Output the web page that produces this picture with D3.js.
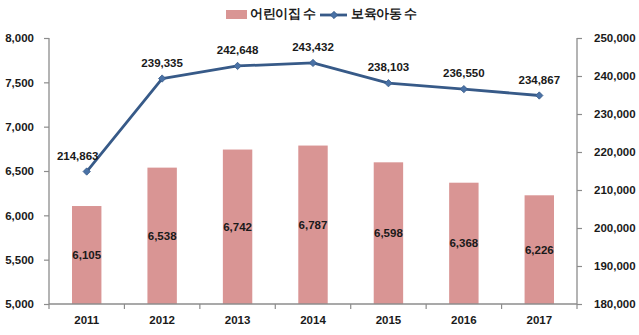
<!DOCTYPE html>
<html>
<head>
<meta charset="utf-8">
<script src="https://cdn.jsdelivr.net/npm/d3@7/dist/d3.min.js"></script>
<style>
  html, body { margin: 0; padding: 0; background: #fff; }
  svg { display: block; }
  text { font-family: "Liberation Sans", Arial, sans-serif; }
</style>
</head>
<body>
<svg id="chart" width="639" height="335"></svg>
<script>
// 연도별 어린이집 수와 보육아동 수
const years = ["2011", "2012", "2013", "2014", "2015", "2016", "2017"];
const centers = [6105, 6538, 6742, 6787, 6598, 6368, 6226];
const children = [214863, 239335, 242648, 243432, 238103, 236550, 234867];
const leftTicks = [5000, 5500, 6000, 6500, 7000, 7500, 8000];
const rightTicks = [180000, 190000, 200000, 210000, 220000, 230000, 240000, 250000];
const seriesNames = ["어린이집 수", "보육아동 수"];

const svg = d3.select("#chart");
const plotLeft = 49, plotRight = 577, plotTop = 38, plotBottom = 304;

const x = d3.scaleBand().domain(years).range([plotLeft, plotRight]);
const yL = d3.scaleLinear().domain([5000, 8000]).range([plotBottom, plotTop]);
const yR = d3.scaleLinear().domain([180000, 250000]).range([plotBottom, plotTop]);

const fmt = d3.format(",");
const axisColor = "#8c8c8c";
const barColor = "#d99594";
const lineColor = "#375a88";
const markerColor = "#4a72a6";

// 막대: 어린이집 수
const barW = x.bandwidth() * 0.39;
svg.append("g").selectAll("rect").data(years).join("rect")
  .attr("x", d => x(d) + x.bandwidth() / 2 - barW / 2)
  .attr("y", (d, i) => yL(centers[i]))
  .attr("width", barW)
  .attr("height", (d, i) => plotBottom - yL(centers[i]))
  .attr("fill", barColor);

// 막대 값 라벨
svg.append("g").selectAll("text").data(years).join("text")
  .attr("x", d => x(d) + x.bandwidth() / 2)
  .attr("y", (d, i) => (yL(centers[i]) + plotBottom) / 2 + 1)
  .attr("text-anchor", "middle")
  .attr("dominant-baseline", "middle")
  .attr("font-size", 11.5)
  .attr("font-weight", "bold")
  .attr("fill", "#1a1a1a")
  .text((d, i) => fmt(centers[i]));

// 축
const axL = d3.axisLeft(yL).tickValues(leftTicks).tickFormat(fmt).tickSize(5).tickPadding(10);
const gL = svg.append("g").attr("transform", `translate(${plotLeft},0)`).call(axL);
const axR = d3.axisRight(yR).tickValues(rightTicks).tickFormat(fmt).tickSize(5).tickPadding(12);
const gR = svg.append("g").attr("transform", `translate(${plotRight},0)`).call(axR);
const axB = d3.axisBottom(x).tickSize(0).tickPadding(12);
const gB = svg.append("g").attr("transform", `translate(0,${plotBottom})`).call(axB);

[gL, gR, gB].forEach(g => {
  g.select(".domain").attr("stroke", axisColor).attr("stroke-width", 1.3);
  g.selectAll(".tick line").attr("stroke", axisColor).attr("stroke-width", 1.2);
  g.selectAll(".tick text")
    .attr("font-size", 11.5)
    .attr("font-weight", "bold")
    .attr("fill", "#1a1a1a")
    .attr("font-family", "\"Liberation Sans\", Arial, sans-serif");
});
gL.select(".domain").attr("d", `M0,${plotTop}V${plotBottom}`);
gR.select(".domain").attr("d", `M0,${plotTop}V${plotBottom}`);
gB.select(".domain").attr("d", `M${plotLeft},0H${plotRight}`);

// 범주 경계 눈금
const bounds = d3.range(years.length + 1).map(i => plotLeft + x.bandwidth() * i);
svg.append("g").selectAll("line").data(bounds).join("line")
  .attr("x1", d => d).attr("x2", d => d)
  .attr("y1", plotBottom).attr("y2", plotBottom + 5)
  .attr("stroke", axisColor).attr("stroke-width", 1.2);

// 선: 보육아동 수
const cx = d => x(d) + x.bandwidth() / 2;
const line = d3.line().x((d, i) => cx(years[i])).y(d => yR(d));
svg.append("path").datum(children)
  .attr("d", line)
  .attr("fill", "none")
  .attr("stroke", lineColor)
  .attr("stroke-width", 2.8)
  .attr("stroke-linejoin", "round");

const diamond = d3.symbol().type(d3.symbolDiamond2).size(34);
svg.append("g").selectAll("path").data(children).join("path")
  .attr("transform", (d, i) => `translate(${cx(years[i])},${yR(d)})`)
  .attr("d", diamond)
  .attr("fill", markerColor)
  .attr("stroke", lineColor)
  .attr("stroke-width", 0.8);

svg.append("g").selectAll("text").data(children).join("text")
  .attr("x", (d, i) => cx(years[i]) + (i === 0 ? -9 : 0))
  .attr("y", d => yR(d) - 15)
  .attr("text-anchor", "middle")
  .attr("dominant-baseline", "middle")
  .attr("font-size", 11.5)
  .attr("font-weight", "bold")
  .attr("fill", "#1a1a1a")
  .text(d => fmt(d));

// 범례
const lg = svg.append("g").attr("font-family", "\"Noto Sans CJK KR\", sans-serif");
lg.append("rect").attr("x", 226).attr("y", 10).attr("width", 21).attr("height", 9).attr("fill", barColor);
lg.append("text").attr("x", 250).attr("y", 15).attr("dominant-baseline", "middle")
  .attr("font-size", 12.5).attr("font-weight", "bold").attr("letter-spacing", -0.5)
  .attr("fill", "#1a1a1a").text(seriesNames[0]);
lg.append("line").attr("x1", 320).attr("x2", 347).attr("y1", 15).attr("y2", 15)
  .attr("stroke", lineColor).attr("stroke-width", 2.8);
lg.append("path").attr("transform", "translate(334,15)").attr("d", diamond)
  .attr("fill", markerColor).attr("stroke", lineColor).attr("stroke-width", 0.8);
lg.append("text").attr("x", 351).attr("y", 15).attr("dominant-baseline", "middle")
  .attr("font-size", 12.5).attr("font-weight", "bold").attr("letter-spacing", -0.5)
  .attr("fill", "#1a1a1a").text(seriesNames[1]);
</script>
</body>
</html>
